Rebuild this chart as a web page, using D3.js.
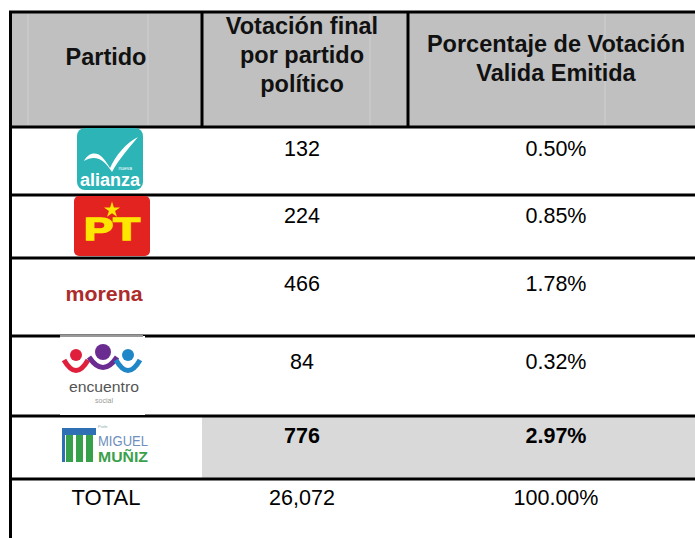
<!DOCTYPE html>
<meta charset="utf-8">
<title>Votacion por partido</title>
<style>
  body { margin: 0; background: #fff; }
  text { font-family: "Liberation Sans", Arial, sans-serif; }
</style>
<body>
<script src="https://cdn.jsdelivr.net/npm/d3@7"></script>
<script>

var width = 695,
    height = 538;

// table data
var headers = [["Partido"], ["Votación final", "por partido", "político"], ["Porcentaje de Votación", "Valida Emitida"]];
var parties = ["alianza", "pt", "morena", "encuentro", "miguel", "TOTAL"];
var votes = [132, 224, 466, 84, 776, 26072];
var percents = [0.50, 0.85, 1.78, 0.32, 2.97, 100.00];
var highlight = "miguel";

// layout
var rowEdges = [127, 195, 258, 336, 416, 479, 538];
var textMid = [148, 215, 283, 361, 435, 497];
var colX = [106, 302, 556];
var dividers = [202, 408];

var svg = d3.select("body").append("svg")
    .attr("width", width)
    .attr("height", height);

var fmtVotes = d3.format(",");
var fmtPct = function(v) { return v.toFixed(2) + "%"; };

// header
svg.append("rect")
    .attr("x", 11).attr("y", 12)
    .attr("width", width - 11).attr("height", rowEdges[0] - 12)
    .attr("fill", "#c0c0c0");

// faint scan lines in header
svg.selectAll(".faint").data([28, 148, 370, 605]).enter().append("line")
    .attr("x1", function(d) { return d; }).attr("x2", function(d) { return d; })
    .attr("y1", 14).attr("y2", rowEdges[0] - 2)
    .attr("stroke", "#cfcfcf").attr("stroke-width", 1);

headers.forEach(function(lines, i) {
  var n = lines.length;
  var top = n == 1 ? 65 : (n == 2 ? 52 : 34);
  svg.append("text")
      .attr("text-anchor", "middle")
      .attr("font-weight", "bold")
      .attr("font-size", "23.5px")
      .attr("fill", "#111")
      .selectAll("tspan").data(lines).enter().append("tspan")
      .attr("x", colX[i])
      .attr("y", function(d, j) { return top + j * 29; })
      .text(function(d) { return d; });
});

// highlighted row background
parties.forEach(function(p, i) {
  if (p == highlight) {
    svg.append("rect")
        .attr("x", dividers[0]).attr("y", rowEdges[i] + 1)
        .attr("width", width - dividers[0]).attr("height", rowEdges[i + 1] - rowEdges[i] - 2)
        .attr("fill", "#d9d9d9");
  }
});

// grid lines
var hl = [12].concat(rowEdges.slice(0, 6));
svg.selectAll(".hline").data(hl).enter().append("line")
    .attr("class", "hline")
    .attr("x1", 9).attr("x2", width)
    .attr("y1", function(d) { return d; })
    .attr("y2", function(d) { return d; })
    .attr("stroke", "#000").attr("stroke-width", 3);

svg.append("line")
    .attr("x1", 10.5).attr("x2", 10.5)
    .attr("y1", 11).attr("y2", height)
    .attr("stroke", "#000").attr("stroke-width", 3);

svg.selectAll(".vline").data(dividers).enter().append("line")
    .attr("class", "vline")
    .attr("x1", function(d) { return d; })
    .attr("x2", function(d) { return d; })
    .attr("y1", 12).attr("y2", rowEdges[0])
    .attr("stroke", "#000").attr("stroke-width", 3);

// values
var rows = svg.selectAll(".row").data(parties).enter().append("g")
    .attr("class", "row")
    .attr("transform", function(d, i) { return "translate(0," + textMid[i] + ")"; });

rows.append("text")
    .attr("x", colX[1]).attr("y", 8)
    .attr("text-anchor", "middle")
    .attr("font-size", "21.5px")
    .attr("font-weight", function(d) { return d == highlight ? "bold" : "normal"; })
    .text(function(d, i) { return fmtVotes(votes[i]); });

rows.append("text")
    .attr("x", colX[2]).attr("y", 8)
    .attr("text-anchor", "middle")
    .attr("font-size", "21.5px")
    .attr("font-weight", function(d) { return d == highlight ? "bold" : "normal"; })
    .text(function(d, i) { return fmtPct(percents[i]); });

rows.filter(function(d) { return d == "TOTAL"; })
    .append("text")
    .attr("x", colX[0]).attr("y", 8)
    .attr("text-anchor", "middle")
    .attr("font-size", "22px")
    .text(function(d) { return d; });

// logos
var logos = {
  alianza: function(g) {
    g.append("rect").attr("x", -33).attr("y", -31).attr("width", 66).attr("height", 62)
        .attr("rx", 8).attr("fill", "#2db4b6");
    g.append("path")
        .attr("d", "M-26,2 C-22,-6 -14,-8 -8,-2 C-4,2 -2,6 0,9 C6,-4 16,-16 28,-22 C18,-10 9,0 2,13 C-2,7 -6,2 -11,0 C-16,-2 -21,-1 -26,2 Z")
        .attr("fill", "#fff");
    g.append("text").attr("x", 22).attr("y", 11).attr("text-anchor", "end")
        .attr("font-size", "5px").attr("fill", "#fff").text("nueva");
    g.append("text").attr("x", 0).attr("y", 27).attr("text-anchor", "middle")
        .attr("font-size", "18px").attr("font-weight", "bold").attr("fill", "#fff")
        .attr("textLength", 60).attr("lengthAdjust", "spacingAndGlyphs").text("alianza");
  },
  pt: function(g) {
    g.append("rect").attr("x", -38).attr("y", -31).attr("width", 76).attr("height", 60)
        .attr("rx", 5).attr("fill", "#e3231f");
    var star = d3.symbol().type(d3.symbolStar).size(80);
    g.append("path").attr("d", star()).attr("transform", "translate(0,-17)")
        .attr("fill", "#ffe600");
    g.append("text").attr("x", 0).attr("y", 13).attr("text-anchor", "middle")
        .attr("font-size", "31px").attr("font-weight", "bold").attr("fill", "#ffe600")
        .attr("stroke", "#ffe600").attr("stroke-width", 1.5)
        .attr("textLength", 56).attr("lengthAdjust", "spacingAndGlyphs")
        .text("PT");
  },
  morena: function(g) {
    g.append("text").attr("x", 0).attr("y", 7).attr("text-anchor", "middle")
        .attr("font-size", "21px").attr("font-weight", "bold").attr("fill", "#ad2b2b")
        .attr("textLength", 77).attr("lengthAdjust", "spacingAndGlyphs")
        .text("morena");
  },
  encuentro: function(g) {
    g.append("rect").attr("x", -44).attr("y", -41).attr("width", 85).attr("height", 79)
        .attr("fill", "#fff");
    g.append("line").attr("x1", -44).attr("x2", 39).attr("y1", -41).attr("y2", -41)
        .attr("stroke", "#999").attr("stroke-width", 2);
    var dots = [[-28, -22, 6, "#e01f3d", 12], [-1, -25, 8, "#6a2c91", 14], [24, -22, 6, "#1f86c8", 12]];
    dots.forEach(function(c) {
      g.append("circle").attr("cx", c[0]).attr("cy", c[1]).attr("r", c[2]).attr("fill", c[3]);
      var w = c[4];
      g.append("path")
          .attr("d", "M" + (c[0] - w) + "," + (c[1] + 5) + " Q" + c[0] + "," + (c[1] + 26) + " " + (c[0] + w) + "," + (c[1] + 5))
          .attr("fill", "none").attr("stroke", c[3]).attr("stroke-width", 5);
    });
    g.append("text").attr("x", 0).attr("y", 15).attr("text-anchor", "middle")
        .attr("font-size", "14px").attr("fill", "#555")
        .attr("textLength", 70).attr("lengthAdjust", "spacingAndGlyphs").text("encuentro");
    g.append("text").attr("x", 0).attr("y", 26).attr("text-anchor", "middle")
        .attr("font-size", "7px").attr("fill", "#999").text("social");
  },
  miguel: function(g) {
    g.append("rect").attr("x", -48).attr("y", -20).attr("width", 34).attr("height", 7).attr("fill", "#2f6fb3");
    g.append("rect").attr("x", -48).attr("y", -13).attr("width", 3).attr("height", 27).attr("fill", "#2f6fb3");
    [-44, -34, -24].forEach(function(x) {
      g.append("rect").attr("x", x).attr("y", -13).attr("width", 7).attr("height", 27).attr("fill", "#36a04a");
    });
    g.append("text").attr("x", -12).attr("y", -20).attr("font-size", "4px").attr("fill", "#8aa")
        .text("Profe");
    g.append("text").attr("x", -12).attr("y", -2).attr("font-size", "15px").attr("fill", "#6f8fbd")
        .attr("textLength", 50).attr("lengthAdjust", "spacingAndGlyphs").text("MIGUEL");
    g.append("text").attr("x", -12).attr("y", 14).attr("font-size", "15px").attr("font-weight", "bold")
        .attr("fill", "#3c9f4c")
        .attr("textLength", 50).attr("lengthAdjust", "spacingAndGlyphs").text("MUÑIZ");
  }
};

var logoCenter = {
  alianza: [110, 159],
  pt: [112, 227],
  morena: [104, 294],
  encuentro: [104, 377],
  miguel: [110, 448]
};

parties.forEach(function(d) {
  if (!logos[d]) return;
  var c = logoCenter[d];
  var g = svg.append("g").attr("transform", "translate(" + c[0] + "," + c[1] + ")");
  logos[d](g);
});

</script>
